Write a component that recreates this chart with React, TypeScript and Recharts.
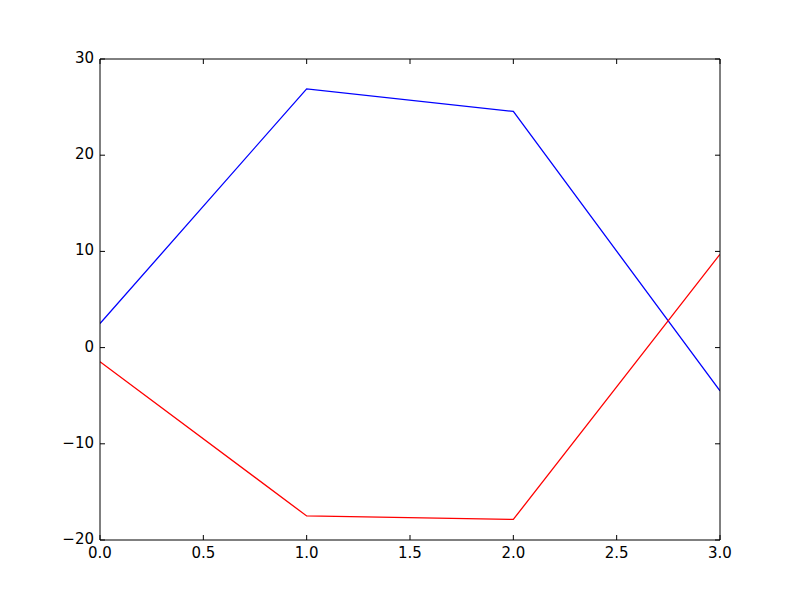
import { LineChart, Line, XAxis, YAxis } from "recharts";

// ── data ──
const xValues = [0, 1, 2, 3];
const blueSeries = [2.5, 26.9, 24.55, -4.5];
const redSeries = [-1.47, -17.5, -17.86, 9.7];

const xTicks = [0, 0.5, 1, 1.5, 2, 2.5, 3];
const yTicks = [-20, -10, 0, 10, 20, 30];

const data = xValues.map((x, i) => ({ x, blue: blueSeries[i], red: redSeries[i] }));

const FONT = "'DejaVu Sans', sans-serif";
const FONT_SIZE = 15;
const TICK_LEN = 5;
const axisStroke = { stroke: "#000", strokeWidth: 1 };

// matplotlib draws a real minus sign
const fmtY = (v: number) => String(v).replace("-", "\u2212");
const fmtX = (v: number) => v.toFixed(1);

// ── custom ticks: inward tick marks, classic matplotlib style ──
function BottomTick({ x, y, payload }: any) {
  return (
    <g>
      <line x1={x} y1={y} x2={x} y2={y - TICK_LEN} stroke="#000" />
      <text x={x} y={y + 7} dy="0.71em" textAnchor="middle" fill="#000" fontSize={FONT_SIZE} fontFamily={FONT}>
        {fmtX(payload.value)}
      </text>
    </g>
  );
}

function TopTick({ x, y }: any) {
  return <line x1={x} y1={y} x2={x} y2={y + TICK_LEN} stroke="#000" />;
}

function LeftTick({ x, y, payload }: any) {
  return (
    <g>
      <line x1={x} y1={y} x2={x + TICK_LEN} y2={y} stroke="#000" />
      <text x={x - 6} y={y} dy="0.27em" textAnchor="end" fill="#000" fontSize={FONT_SIZE} fontFamily={FONT}>
        {fmtY(payload.value)}
      </text>
    </g>
  );
}

function RightTick({ x, y }: any) {
  return <line x1={x} y1={y} x2={x - TICK_LEN} y2={y} stroke="#000" />;
}

export default function App() {
  return (
    <div style={{ position: "absolute", left: 0, top: 0, width: 800, height: 600, background: "#fff" }}>
      <LineChart width={800} height={600} data={data} margin={{ top: 58, right: 79, left: 0, bottom: 0 }}>
        <XAxis
          dataKey="x"
          type="number"
          domain={[0, 3]}
          ticks={xTicks}
          height={60}
          tick={<BottomTick />}
          tickSize={0}
          tickMargin={0}
          axisLine={axisStroke}
          tickLine={false}
          allowDataOverflow
        />
        <XAxis
          xAxisId="top"
          orientation="top"
          type="number"
          domain={[0, 3]}
          ticks={xTicks}
          height={1}
          tick={<TopTick />}
          tickSize={0}
          tickMargin={0}
          axisLine={axisStroke}
          tickLine={false}
          allowDataOverflow
        />
        <YAxis
          type="number"
          domain={[-20, 30]}
          ticks={yTicks}
          width={100}
          tick={<LeftTick />}
          tickSize={0}
          tickMargin={0}
          axisLine={axisStroke}
          tickLine={false}
          allowDataOverflow
        />
        <YAxis
          yAxisId="right"
          orientation="right"
          type="number"
          domain={[-20, 30]}
          ticks={yTicks}
          width={1}
          tick={<RightTick />}
          tickSize={0}
          tickMargin={0}
          axisLine={axisStroke}
          tickLine={false}
          allowDataOverflow
        />
        <Line dataKey="blue" type="linear" stroke="#0000ff" strokeWidth={1.3} dot={false} isAnimationActive={false} />
        <Line dataKey="red" type="linear" stroke="#ff0000" strokeWidth={1.3} dot={false} isAnimationActive={false} />
      </LineChart>
    </div>
  );
}
